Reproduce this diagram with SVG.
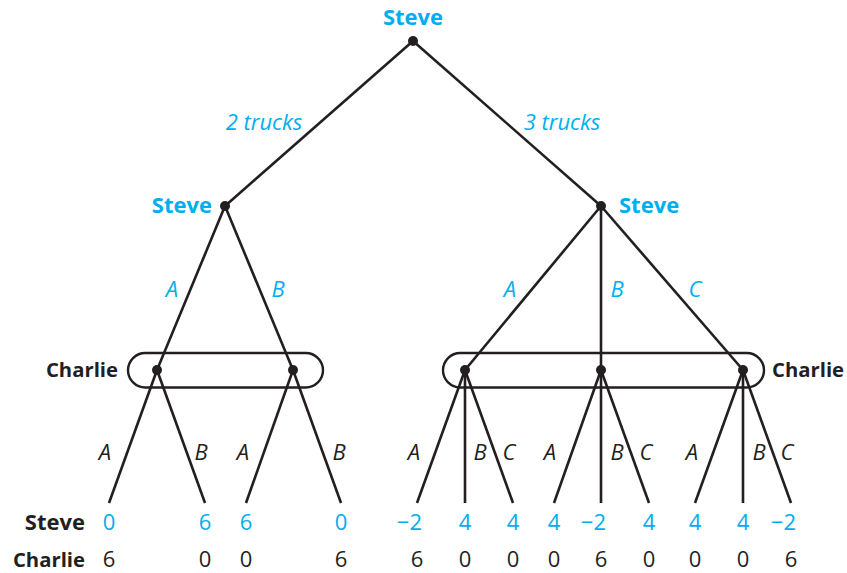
<svg xmlns="http://www.w3.org/2000/svg" width="847" height="573" viewBox="0 0 847 573">
  <style>
    .edge { stroke: #231f20; stroke-width: 2.6; fill: none; stroke-linecap: butt; }
    .info { stroke: #231f20; stroke-width: 2.4; fill: none; }
    .dot { fill: #231f20; }
    .player { font-family: "Open Sans", "Noto Sans", "Liberation Sans", sans-serif; font-weight: bold; font-size: 22px; }
    .narrow { font-size: 20.3px; }
    .blue { fill: #00aeef; }
    .dark { fill: #231f20; }
    .move { font-family: "Open Sans", "Noto Sans", "Liberation Sans", sans-serif; font-style: italic; font-size: 22px; text-anchor: middle; }
    .pay { font-family: "Open Sans", "Noto Sans", "Liberation Sans", sans-serif; font-size: 22px; text-anchor: middle; }
    .payneg { font-family: "Open Sans", "Noto Sans", "Liberation Sans", sans-serif; font-size: 22px; text-anchor: end; }
  </style>

  <!-- information sets -->
  <g id="infosets">
    <rect class="info" x="128" y="353" width="195" height="34.5" rx="17.25"/>
    <rect class="info" x="443" y="353" width="321" height="34.5" rx="17.25"/>
  </g>

  <!-- branches -->
  <g id="connectors">
    <line class="edge" x1="413" y1="41" x2="225" y2="206"/>
    <line class="edge" x1="413" y1="41" x2="601" y2="206"/>
    <line class="edge" x1="225" y1="206" x2="157" y2="370"/>
    <line class="edge" x1="225" y1="206" x2="293" y2="370"/>
    <line class="edge" x1="601" y1="206" x2="465" y2="370"/>
    <line class="edge" x1="601" y1="206" x2="601" y2="370"/>
    <line class="edge" x1="601" y1="206" x2="743" y2="370"/>
    <line class="edge" x1="157" y1="370" x2="109" y2="503"/>
    <line class="edge" x1="157" y1="370" x2="205" y2="503"/>
    <line class="edge" x1="293" y1="370" x2="246" y2="503"/>
    <line class="edge" x1="293" y1="370" x2="341" y2="503"/>
    <line class="edge" x1="465" y1="370" x2="417" y2="503"/>
    <line class="edge" x1="465" y1="370" x2="465" y2="503"/>
    <line class="edge" x1="465" y1="370" x2="513" y2="503"/>
    <line class="edge" x1="601" y1="370" x2="554" y2="503"/>
    <line class="edge" x1="601" y1="370" x2="601" y2="503"/>
    <line class="edge" x1="601" y1="370" x2="649" y2="503"/>
    <line class="edge" x1="743" y1="370" x2="695" y2="503"/>
    <line class="edge" x1="743" y1="370" x2="743" y2="503"/>
    <line class="edge" x1="743" y1="370" x2="791" y2="503"/>
  </g>

  <!-- branch labels -->
  <g id="branch-labels">
    <text class="move blue" x="264" y="130">2 trucks</text>
    <text class="move blue" x="562" y="130">3 trucks</text>
    <text class="move blue" x="172" y="297">A</text>
    <text class="move blue" x="278" y="297">B</text>
    <text class="move blue" x="510" y="297">A</text>
    <text class="move blue" x="617" y="297">B</text>
    <text class="move blue" x="695" y="297">C</text>
    <text class="move dark" x="105" y="460">A</text>
    <text class="move dark" x="201" y="460">B</text>
    <text class="move dark" x="243" y="460">A</text>
    <text class="move dark" x="339" y="460">B</text>
    <text class="move dark" x="414" y="460">A</text>
    <text class="move dark" x="480" y="460">B</text>
    <text class="move dark" x="509" y="460">C</text>
    <text class="move dark" x="550" y="460">A</text>
    <text class="move dark" x="617" y="460">B</text>
    <text class="move dark" x="646" y="460">C</text>
    <text class="move dark" x="692" y="460">A</text>
    <text class="move dark" x="759" y="460">B</text>
    <text class="move dark" x="787" y="460">C</text>
  </g>

  <!-- decision nodes -->
  <g id="root">
    <circle class="dot" cx="413" cy="41" r="5"/>
    <text class="player blue" x="413" y="25" text-anchor="middle">Steve</text>
  </g>
  <g id="steve-2">
    <circle class="dot" cx="225" cy="206" r="5"/>
    <text class="player blue" x="212" y="213" text-anchor="end">Steve</text>
  </g>
  <g id="steve-3">
    <circle class="dot" cx="601" cy="206" r="5"/>
    <text class="player blue" x="619" y="213">Steve</text>
  </g>
  <g id="charlie-left">
    <circle class="dot" cx="157" cy="370" r="5"/>
    <circle class="dot" cx="293" cy="370" r="5"/>
    <text class="player narrow dark" x="118" y="377" text-anchor="end">Charlie</text>
  </g>
  <g id="charlie-right">
    <circle class="dot" cx="465" cy="370" r="5"/>
    <circle class="dot" cx="601" cy="370" r="5"/>
    <circle class="dot" cx="743" cy="370" r="5"/>
    <text class="player narrow dark" x="772" y="377">Charlie</text>
  </g>

  <!-- payoffs -->
  <g id="payoffs">
    <text class="player dark" x="85" y="530" text-anchor="end">Steve</text>
    <text class="player narrow dark" x="85" y="567" text-anchor="end">Charlie</text>

    <text class="pay blue" x="109" y="530">0</text>
    <text class="pay blue" x="205" y="530">6</text>
    <text class="pay blue" x="246" y="530">6</text>
    <text class="pay blue" x="341" y="530">0</text>
    <text class="payneg blue" x="422" y="530">−2</text>
    <text class="pay blue" x="465" y="530">4</text>
    <text class="pay blue" x="513" y="530">4</text>
    <text class="pay blue" x="554" y="530">4</text>
    <text class="payneg blue" x="606" y="530">−2</text>
    <text class="pay blue" x="649" y="530">4</text>
    <text class="pay blue" x="695" y="530">4</text>
    <text class="pay blue" x="743" y="530">4</text>
    <text class="payneg blue" x="796" y="530">−2</text>

    <text class="pay dark" x="109" y="567">6</text>
    <text class="pay dark" x="205" y="567">0</text>
    <text class="pay dark" x="246" y="567">0</text>
    <text class="pay dark" x="341" y="567">6</text>
    <text class="pay dark" x="417" y="567">6</text>
    <text class="pay dark" x="465" y="567">0</text>
    <text class="pay dark" x="513" y="567">0</text>
    <text class="pay dark" x="554" y="567">0</text>
    <text class="pay dark" x="601" y="567">6</text>
    <text class="pay dark" x="649" y="567">0</text>
    <text class="pay dark" x="695" y="567">0</text>
    <text class="pay dark" x="743" y="567">0</text>
    <text class="pay dark" x="791" y="567">6</text>
  </g>
</svg>
